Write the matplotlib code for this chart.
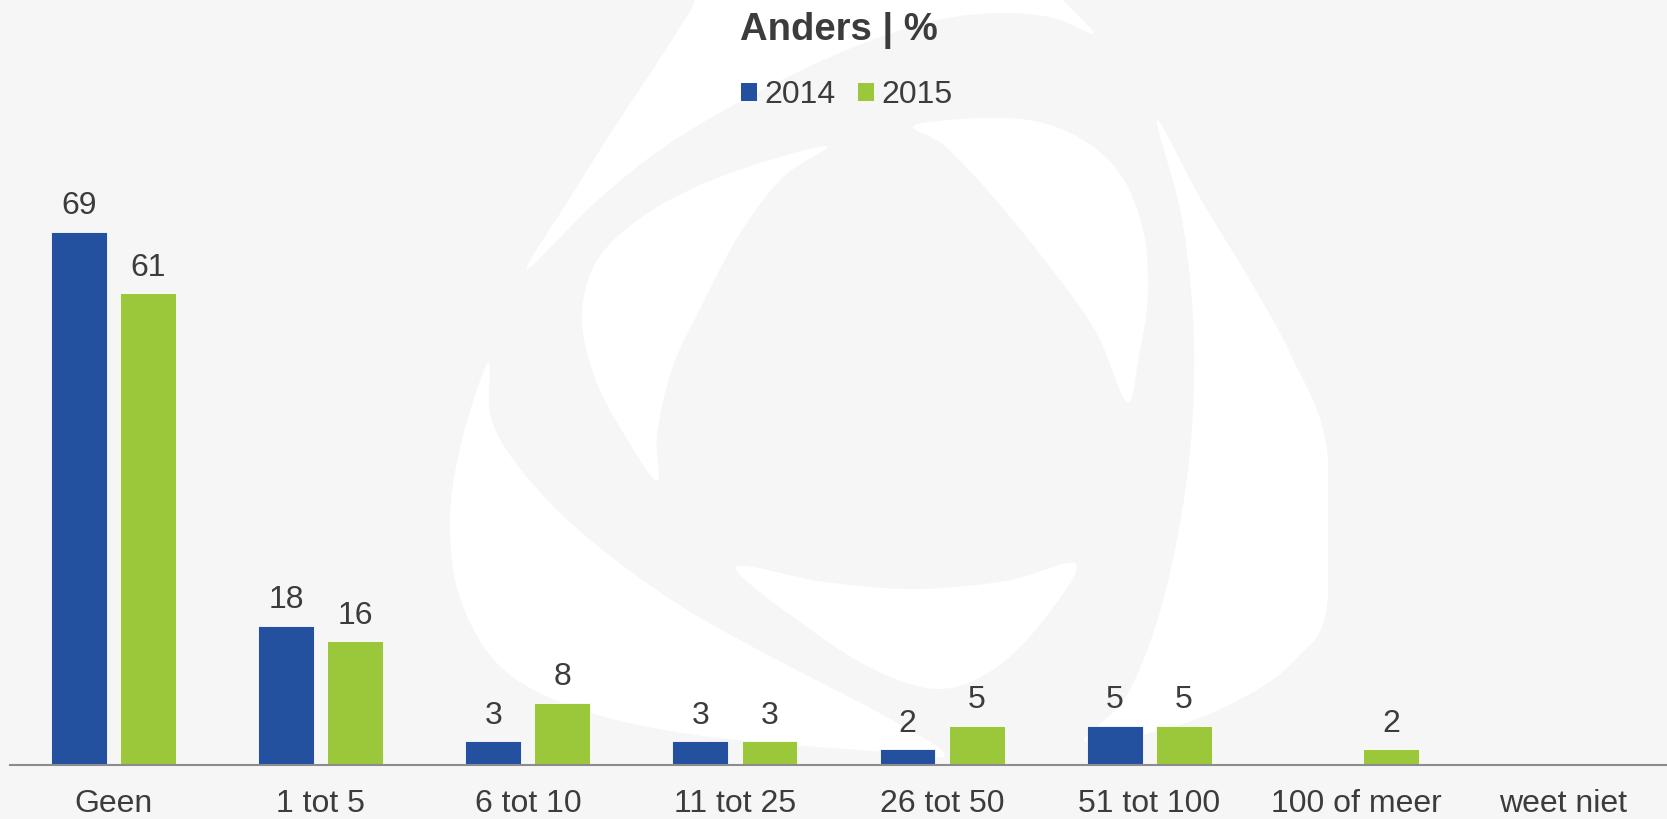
import matplotlib
matplotlib.use("Agg")
from matplotlib import pyplot as plt
from matplotlib.patches import Polygon, Patch
import numpy as np

categories = ["Geen", "1 tot 5", "6 tot 10", "11 tot 25", "26 tot 50",
              "51 tot 100", "100 of meer", "weet niet"]
years = ["2014", "2015"]
values_2014 = [69, 18, 3, 3, 2, 5, 0, 0]
values_2015 = [61, 16, 8, 3, 5, 5, 2, 0]

blue = "#2450a0"
green = "#9bc83b"
bg = "#f6f6f6"
txt = "#3c3c3c"

plt.rcParams["font.family"] = ["Liberation Sans", "DejaVu Sans"]


def smooth(pts, n=12):
    # closed Catmull-Rom curve through the outline points
    p = np.array(pts, dtype=float)
    k = len(p)
    out = []
    for i in range(k):
        p0, p1, p2, p3 = p[i - 1], p[i], p[(i + 1) % k], p[(i + 2) % k]
        for t in np.linspace(0, 1, n, endpoint=False):
            t2, t3 = t * t, t * t * t
            out.append(0.5 * (2 * p1 + (-p0 + p2) * t
                              + (2 * p0 - 5 * p1 + 4 * p2 - p3) * t2
                              + (-p0 + 3 * p1 - 3 * p2 + p3) * t3))
    return np.array(out)


fig = plt.figure(figsize=(16.67, 8.19), dpi=100, facecolor=bg)

# faint white logo behind the chart (figure pixel coords, y down)
logo = fig.add_axes([0, 0, 1, 1], zorder=0)
logo.set_xlim(0, 1667)
logo.set_ylim(819, 0)
logo.axis("off")
blades = [
    [(527, 269), (570, 198), (612, 131), (661, 57), (692, 8), (725, -45),
     (1025, -45), (1063, 0), (1094, 34), (1054, 18), (1000, 13), (933, 21),
     (854, 47), (764, 89), (673, 141), (600, 198)],
    [(827, 146), (733, 172), (654, 209), (600, 256), (582, 313), (594, 376),
     (624, 434), (657, 481), (657, 434), (673, 366), (703, 303), (739, 235),
     (782, 178)],
    [(915, 125), (1006, 118), (1066, 131), (1115, 167), (1142, 225),
     (1148, 293), (1139, 355), (1127, 402), (1097, 334), (1054, 272),
     (994, 198), (945, 146)],
    [(736, 567), (824, 582), (915, 589), (1006, 581), (1076, 564),
     (1042, 622), (994, 669), (939, 689), (873, 669), (800, 622)],
    [(488, 363), (461, 444), (450, 522), (461, 601), (503, 669), (582, 710),
     (703, 736), (885, 752), (945, 755), (885, 716), (764, 653), (673, 601),
     (582, 533), (521, 470), (491, 418)],
    [(1157, 120), (1200, 198), (1248, 277), (1291, 355), (1327, 449),
     (1327, 606), (1297, 658), (1248, 695), (1176, 726), (1085, 742),
     (1127, 695), (1163, 601), (1188, 470), (1194, 340), (1182, 219)],
]
for b in blades:
    logo.add_patch(Polygon(smooth(b), closed=True, facecolor="white",
                           edgecolor="none"))
# right side of the logo is cut off straight
logo.add_patch(Polygon([(1328, 0), (1667, 0), (1667, 819), (1328, 819)],
                       facecolor=bg, edgecolor="none"))

ax = fig.add_axes([10 / 1667, 54.5 / 819, 1657 / 1667, 764.5 / 819], zorder=1)
ax.set_facecolor("none")

x = np.arange(len(categories))
w = 0.27
off = 0.167
b1 = ax.bar(x - off, values_2014, w, color=blue, edgecolor="white", linewidth=0.6)
b2 = ax.bar(x + off, values_2015, w, color=green, edgecolor="white", linewidth=0.6)

for bars, vals in [(b1, values_2014), (b2, values_2015)]:
    for rect, v in zip(bars, vals):
        if v > 0:
            ax.annotate(str(v), (rect.get_x() + rect.get_width() / 2, v),
                        xytext=(0, 7.5), textcoords="offset points",
                        ha="center", va="bottom", fontsize=23, color=txt)

ax.set_xlim(-0.5, len(categories) - 0.5)
ax.set_ylim(0, 99)
ax.set_xticks(x)
ax.set_xticklabels(categories, fontsize=23, color=txt)
ax.tick_params(axis="x", length=0, pad=18)
ax.set_yticks([])
for s in ["top", "right", "left"]:
    ax.spines[s].set_visible(False)
ax.spines["bottom"].set_color("#8c8c8c")
ax.spines["bottom"].set_linewidth(1.5)

fig.text(0.503, 1 - 40 / 819, "Anders | %", ha="center", va="baseline",
         fontsize=27.5, fontweight="bold", color=txt)

handles = [Patch(facecolor=blue), Patch(facecolor=green)]
ax.legend(handles, years, loc="center", bbox_to_anchor=(0.505, 1 - 95 / 764.5),
          ncol=2, frameon=False, fontsize=23, handlelength=0.5,
          handleheight=0.5, handletextpad=0.22, columnspacing=0.72,
          labelcolor=txt)

fig.savefig("out.png", dpi=100, facecolor=bg)
